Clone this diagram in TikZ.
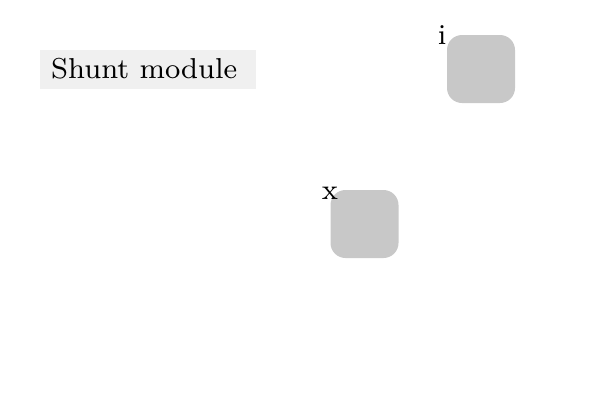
\documentclass[tikz,border=0pt]{standalone}
\definecolor{boxgray}{HTML}{F0F0F0}
\definecolor{sqgray}{HTML}{C8C8C8}
\newcommand{\bigtxt}[1]{\scalebox{3.6}{\fontsize{8}{10}\selectfont #1}}
\begin{document}
\begin{tikzpicture}[x=1pt,y=-1pt,
  titlebox/.style={fill=boxgray,draw=none,minimum width=216pt,minimum height=39pt,inner sep=0pt},
  sq/.style={fill=sqgray,draw=none,rounded corners=15pt,minimum width=68pt,minimum height=68pt,inner sep=0pt},
  lbl/.style={inner sep=0pt}]
\useasboundingbox (0,0) rectangle (600,400);
\node[titlebox] (title) at (148,69.5) {};
\node[inner sep=0pt,anchor=base west] (titletext) at (51,78) {\bigtxt{Shunt module}};
\node[sq] (i) at (481,69) {};
\node[sq] (x) at (364.5,224) {};
\node[lbl,anchor=base] (il) at (442,44) {\bigtxt{i}};
\node[lbl,anchor=base] (xl) at (330,199) {\bigtxt{x}};
\end{tikzpicture}
\end{document}
